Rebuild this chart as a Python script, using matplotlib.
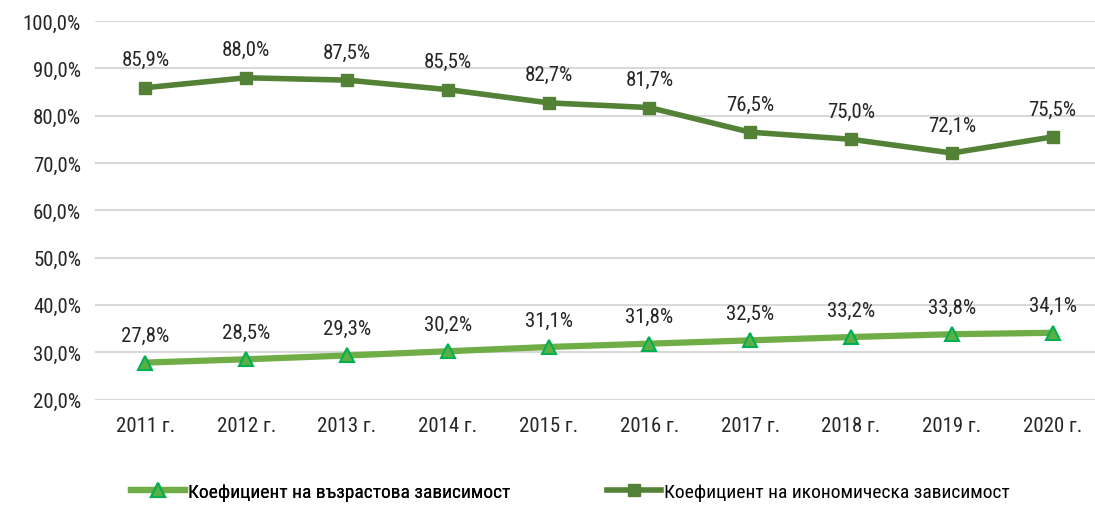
import matplotlib
matplotlib.use("Agg")
import matplotlib.pyplot as plt
from matplotlib.ticker import FuncFormatter

# данни
godini = ["2011 г.", "2012 г.", "2013 г.", "2014 г.", "2015 г.",
          "2016 г.", "2017 г.", "2018 г.", "2019 г.", "2020 г."]
vazrastova = [27.8, 28.5, 29.3, 30.2, 31.1, 31.8, 32.5, 33.2, 33.8, 34.1]
ikonomicheska = [85.9, 88.0, 87.5, 85.5, 82.7, 81.7, 76.5, 75.0, 72.1, 75.5]

plt.rcParams['font.family'] = ['Roboto Condensed', 'PT Sans Narrow', 'DejaVu Sans']

fig = plt.figure(figsize=(10.95, 5.06), dpi=100)
ax = fig.add_axes([95 / 1095, 105.5 / 506, 1008 / 1095, 378.5 / 506])

x = list(range(len(godini)))

l1, = ax.plot(x, vazrastova, color="#70AD47", lw=4.5, marker="^", markersize=10,
              markerfacecolor="#5BAF45", markeredgecolor="#00B050", markeredgewidth=1.5,
              label="Коефициент на възрастова зависимост", zorder=3)
l2, = ax.plot(x, ikonomicheska, color="#538135", lw=4, marker="s", markersize=8,
              markerfacecolor="#538135", markeredgecolor="#538135",
              label="Коефициент на икономическа зависимост", zorder=3)

def fmt(v):
    return f"{v:.1f}%".replace(".", ",")

for xi, v in zip(x, vazrastova):
    ax.annotate(fmt(v), (xi, v), textcoords="offset pixels", xytext=(0, 27),
                ha="center", va="center", fontsize=15, color="#262626")
for xi, v in zip(x, ikonomicheska):
    ax.annotate(fmt(v), (xi, v), textcoords="offset pixels", xytext=(0, 28),
                ha="center", va="center", fontsize=15, color="#262626")

ax.set_xlim(-0.5, 9.5)
ax.set_ylim(20, 100)
ax.set_yticks(range(20, 101, 10))
ax.yaxis.set_major_formatter(FuncFormatter(lambda v, p: fmt(v)))
ax.set_xticks(x)
ax.set_xticklabels(godini)
ax.tick_params(axis="both", length=0, labelsize=15, colors="#262626")
ax.tick_params(axis="x", pad=12)
ax.tick_params(axis="y", pad=10)
ax.grid(axis="y", color="#D9D9D9", lw=1.5)
ax.set_axisbelow(True)
for s in ax.spines.values():
    s.set_visible(False)

# легенда - два отделни елемента
leg1 = fig.legend(handles=[l1], loc="center left", bbox_to_anchor=(131 / 1095, 1 - 493 / 506),
                  frameon=False, fontsize=14, handlelength=2.8, handletextpad=0.15,
                  borderpad=0, borderaxespad=0)
fig.add_artist(leg1)
fig.legend(handles=[l2], loc="center left", bbox_to_anchor=(607 / 1095, 1 - 493 / 506),
           frameon=False, fontsize=14, handlelength=2.8, handletextpad=0.15,
           borderpad=0, borderaxespad=0)

plt.savefig("out.png", dpi=100)
